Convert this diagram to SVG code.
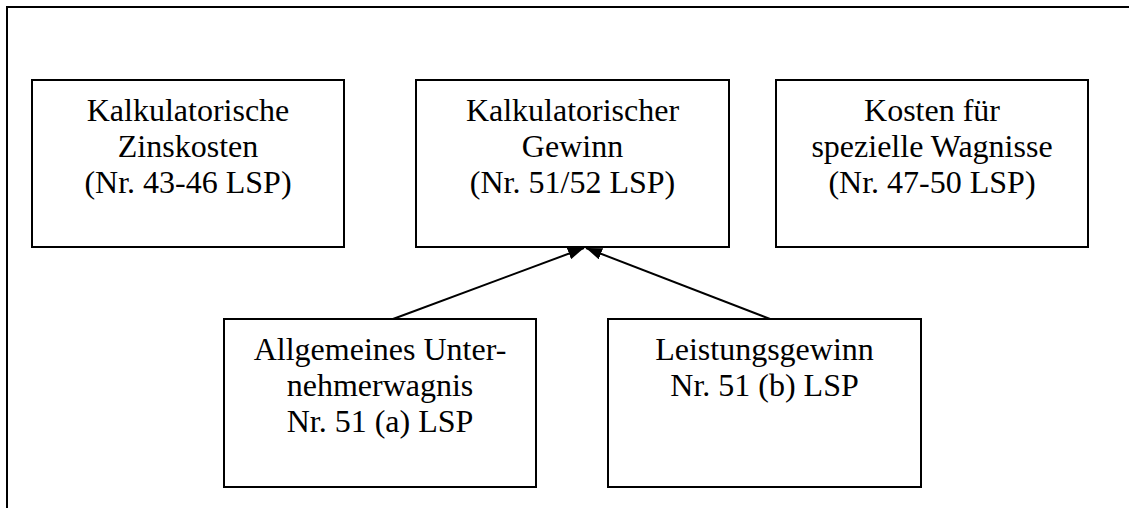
<svg xmlns="http://www.w3.org/2000/svg" width="1129" height="508" viewBox="0 0 1129 508">
<style>
.box{fill:#fff;stroke:#000;stroke-width:2}
.c{stroke:#000;stroke-width:2;fill:none}
</style>
<defs>
<marker id="ah" viewBox="0 0 16 12" refX="16" refY="6" markerWidth="16" markerHeight="12" markerUnits="userSpaceOnUse" orient="auto">
<path d="M0,0 L16,6 L0,12 Z" fill="#000"/>
</marker>
</defs>
<rect width="1129" height="508" fill="#fff"/>
<path d="M7,510 L7,7 L1131,7" fill="none" stroke="#000" stroke-width="2"/>
<g font-family="Liberation Serif, DejaVu Serif, serif" font-size="32" text-anchor="middle" fill="#000">
<g id="n1">
<rect class="box" x="32" y="80" width="312" height="167"/>
<text x="188" y="121">Kalkulatorische</text>
<text x="188" y="157">Zinskosten</text>
<text x="188" y="193">(Nr. 43-46 LSP)</text>
</g>
<g id="n2">
<rect class="box" x="416" y="80" width="313" height="167"/>
<text x="572.5" y="121">Kalkulatorischer</text>
<text x="572.5" y="157">Gewinn</text>
<text x="572.5" y="193">(Nr. 51/52 LSP)</text>
</g>
<g id="n3">
<rect class="box" x="776" y="80" width="312" height="167"/>
<text x="932" y="121">Kosten für</text>
<text x="932" y="157">spezielle Wagnisse</text>
<text x="932" y="193">(Nr. 47-50 LSP)</text>
</g>
<g id="n4">
<rect class="box" x="224" y="319" width="312" height="168"/>
<text x="380" y="360">Allgemeines Unter-</text>
<text x="380" y="396">nehmerwagnis</text>
<text x="380" y="432">Nr. 51 (a) LSP</text>
</g>
<g id="n5">
<rect class="box" x="608" y="319" width="313" height="168"/>
<text x="764.5" y="360">Leistungsgewinn</text>
<text x="764.5" y="396">Nr. 51 (b) LSP</text>
</g>
</g>
<g id="connectors">
<line class="c" x1="393" y1="319" x2="584" y2="248" marker-end="url(#ah)"/>
<line class="c" x1="770" y1="319" x2="586" y2="248" marker-end="url(#ah)"/>
</g>
</svg>
